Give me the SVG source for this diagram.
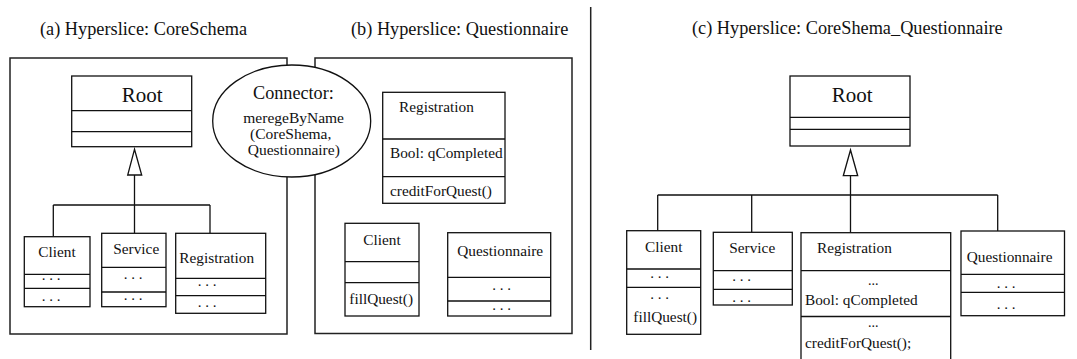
<svg xmlns="http://www.w3.org/2000/svg" width="1077" height="359" viewBox="0 0 1077 359" font-family="'Liberation Serif', 'DejaVu Serif', serif">
  <style>
    text { font-family: 'Liberation Serif', 'DejaVu Serif', serif; fill: #111; }
    .title { font-size: 18.3px; }
    .root { font-size: 21px; }
    .cls { font-size: 15.3px; }
    .dots { font-size: 15px; text-anchor: middle; }
    .box { fill: #fff; stroke: #111; stroke-width: 1.3; }
    .ln { fill: none; stroke: #111; stroke-width: 1.3; }
    .frame { fill: none; stroke: #222; stroke-width: 1.5; }
  </style>

  <!-- panel titles -->
  <text class="title" x="40" y="35">(a) Hyperslice: CoreSchema</text>
  <text class="title" x="351" y="35">(b) Hyperslice: Questionnaire</text>
  <text class="title" x="692" y="34">(c) Hyperslice: CoreShema_Questionnaire</text>

  <!-- separator between source and composed hyperslices -->
  <line class="frame" x1="590.7" y1="7" x2="590.7" y2="350"/>

  <!-- hyperslice frames, joined by the composition connector -->
  <g id="frame-a">
    <path class="frame" d="M287,65 L287,58 L10,58 L10,334 L287,334 L287,177"/>
  </g>
  <g id="frame-b">
    <path class="frame" d="M315,67.5 L315,58 L572,58 L572,333.5 L315,333.5 L315,174.5"/>
  </g>
  <g id="connector">
    <ellipse class="box" cx="291.7" cy="121" rx="79" ry="56"/>
    <text x="253" y="99.3" style="font-size:18.2px">Connector:</text>
    <text x="243.3" y="122.7" style="font-size:15.5px">meregeByName</text>
    <text x="250" y="139.3" style="font-size:15.5px">(CoreShema,</text>
    <text x="247.7" y="155" style="font-size:15.5px">Questionnaire)</text>
  </g>

  <!-- inheritance connectors -->
  <g id="connectors">
    <polygon class="box" points="134.5,149.3 127.7,175 141.7,175"/>
    <path class="ln" d="M134.5,175 V233.3 M53.3,205 H210 M53.3,205 V236.7 M210,205 V233.3"/>
    <polygon class="box" points="850.5,150 843.3,175.7 857.7,175.7"/>
    <path class="ln" d="M850.5,175.7 V232.7 M657.7,195 H997.7 M657.7,195 V230.7 M751.7,195 V232.3 M997.7,195 V231"/>
  </g>

  <!-- (a) CoreSchema classes -->
  <g id="a-root">
    <rect class="box" x="71.7" y="76" width="120" height="70.7"/>
    <path class="ln" d="M71.7,110.7 H191.7 M71.7,131.7 H191.7"/>
    <text class="root" x="121.7" y="101.7">Root</text>
  </g>
  <g id="a-client">
    <rect class="box" x="24.3" y="236.7" width="65.7" height="70"/>
    <path class="ln" d="M24.3,274.3 H90 M24.3,288.3 H90"/>
    <text class="cls" x="38.3" y="256.7">Client</text>
    <text class="dots" x="51" y="280">. . .</text>
    <text class="dots" x="51" y="300.5">. . .</text>
  </g>
  <g id="a-service">
    <rect class="box" x="101.7" y="233.3" width="64.3" height="73.4"/>
    <path class="ln" d="M101.7,267.3 H166 M101.7,292 H166"/>
    <text class="cls" x="113.3" y="254">Service</text>
    <text class="dots" x="133" y="279">. . .</text>
    <text class="dots" x="133" y="300">. . .</text>
  </g>
  <g id="a-registration">
    <rect class="box" x="175.7" y="233.3" width="90" height="80"/>
    <path class="ln" d="M175.7,278.3 H265.7 M175.7,295.7 H265.7"/>
    <text class="cls" x="179.3" y="262.7">Registration</text>
    <text class="dots" x="207" y="285.5">. . .</text>
    <text class="dots" x="207" y="307">. . .</text>
  </g>

  <!-- (b) Questionnaire classes -->
  <g id="b-registration">
    <rect class="box" x="382.7" y="92.3" width="122.3" height="111"/>
    <path class="ln" d="M382.7,139 H505 M382.7,176.7 H505"/>
    <text class="cls" x="399" y="111.7">Registration</text>
    <text class="cls" x="390" y="158.3">Bool: qCompleted</text>
    <text class="cls" x="390" y="196">creditForQuest()</text>
  </g>
  <g id="b-client">
    <rect class="box" x="345" y="223.3" width="74" height="92.7"/>
    <path class="ln" d="M345,261.7 H419 M345,282.7 H419"/>
    <text class="cls" x="363.3" y="245">Client</text>
    <text class="cls" x="349.3" y="304">fillQuest()</text>
  </g>
  <g id="b-questionnaire">
    <rect class="box" x="447.7" y="232.7" width="103" height="83.3"/>
    <path class="ln" d="M447.7,277.3 H550.7 M447.7,301 H550.7"/>
    <text class="cls" x="457.3" y="256">Questionnaire</text>
    <text class="dots" x="501.7" y="290">. . .</text>
    <text class="dots" x="501.7" y="310">. . .</text>
  </g>

  <!-- (c) composed hyperslice classes -->
  <g id="c-root">
    <rect class="box" x="790" y="76" width="120" height="70"/>
    <path class="ln" d="M790,117.3 H910 M790,129.3 H910"/>
    <text class="root" x="831.7" y="101.7">Root</text>
  </g>
  <g id="c-client">
    <rect class="box" x="626.7" y="230.7" width="74" height="103.6"/>
    <path class="ln" d="M626.7,269 H700.7 M626.7,287.3 H700.7"/>
    <text class="cls" x="645" y="251.7">Client</text>
    <text class="dots" x="659.5" y="278">. . .</text>
    <text class="dots" x="659.5" y="298.8">. . .</text>
    <text class="cls" x="633.3" y="321.7">fillQuest()</text>
  </g>
  <g id="c-service">
    <rect class="box" x="713.3" y="232.3" width="79" height="72.7"/>
    <path class="ln" d="M713.3,270.7 H792.3 M713.3,289.3 H792.3"/>
    <text class="cls" x="729.3" y="252.7">Service</text>
    <text class="dots" x="741.7" y="280.5">. . .</text>
    <text class="dots" x="741.7" y="301.5">. . .</text>
  </g>
  <g id="c-registration">
    <rect class="box" x="801" y="232.7" width="149.7" height="132"/>
    <path class="ln" d="M801,270.7 H950.7 M801,316.5 H950.7"/>
    <text class="cls" x="817" y="252.7">Registration</text>
    <text class="dots" x="873.3" y="285" style="font-size:14px">...</text>
    <text class="cls" x="805" y="305">Bool: qCompleted</text>
    <text class="dots" x="873.3" y="326.5" style="font-size:14px">...</text>
    <text class="cls" x="805" y="348.3">creditForQuest();</text>
  </g>
  <g id="c-questionnaire">
    <rect class="box" x="961" y="231" width="103.5" height="84.7"/>
    <path class="ln" d="M961,274.3 H1064.5 M961,292.3 H1064.5"/>
    <text class="cls" x="966.7" y="261.7">Questionnaire</text>
    <text class="dots" x="1006" y="288">. . .</text>
    <text class="dots" x="1006" y="308.8">. . .</text>
  </g>
</svg>
